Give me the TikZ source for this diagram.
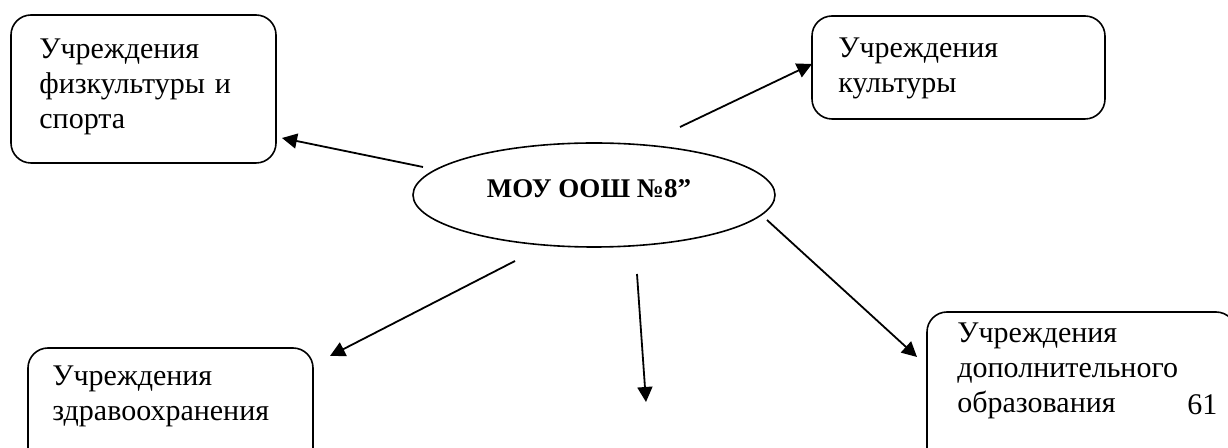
\documentclass[tikz,border=0pt]{standalone}
\usepackage{fontspec}
\setmainfont{Liberation Serif}
\usetikzlibrary{arrows.meta, shapes.geometric}

\tikzset{
	box/.style={draw, line width=0.8pt, rounded corners=10pt, inner sep=0pt},
	txt/.style={inner sep=0pt, align=left, text width=150pt, font=\fontsize{15pt}{17.5pt}\selectfont},
	link/.style={line width=0.9pt, -{Triangle[length=7.5pt,width=7.5pt]}},
}

\begin{document}
\begin{tikzpicture}[x=0.5pt, y=-0.5pt]
	\path[use as bounding box, clip] (0, 0) rectangle (1228, 448);

	\node[box, minimum width=132.5pt, minimum height=74pt] (sport) at (143.5, 89) {};
	\node[box, minimum width=146.5pt, minimum height=51.5pt] (culture) at (958.5, 67.5) {};
	\node[box, minimum width=142.5pt, minimum height=61pt] (health) at (170.5, 409) {};
	\node[box, minimum width=154.5pt, minimum height=79pt] (extra) at (1081.5, 391) {};
	\node[draw, ellipse, line width=0.8pt, inner sep=0pt, minimum width=181pt, minimum height=52pt] (school) at (594, 195) {};

	\node[txt, anchor=base west] (sport-t) at (39, 59) {Учреждения\\физкультуры и\\спорта};
	\node[txt, anchor=base west] (culture-t) at (838, 58) {Учреждения\\культуры};
	\node[txt, anchor=base west] (health-t) at (52, 386) {Учреждения\\здравоохранения};
	\node[txt, anchor=base west] (extra-t) at (957, 343) {Учреждения\\дополнительного\\образования};
	\node[txt, text width=, anchor=base west] (page) at (1187, 415) {61};
	\node[inner sep=0pt, anchor=base, font=\fontsize{13.5pt}{16pt}\selectfont\bfseries] (school-t) at (589, 198) {МОУ ООШ №8”};

	\coordinate (s1) at (423, 167);
	\coordinate (e1) at (282, 138);
	\coordinate (s2) at (680, 127);
	\coordinate (e2) at (812, 64);
	\coordinate (s3) at (515, 261);
	\coordinate (e3) at (330, 356);
	\coordinate (s4) at (637, 274);
	\coordinate (e4) at (646, 402);
	\coordinate (s5) at (767, 220);
	\coordinate (e5) at (917, 357);

	\draw[link] (s1) -- (e1);
	\draw[link] (s2) -- (e2);
	\draw[link] (s3) -- (e3);
	\draw[link] (s4) -- (e4);
	\draw[link] (s5) -- (e5);

\end{tikzpicture}
\end{document}
